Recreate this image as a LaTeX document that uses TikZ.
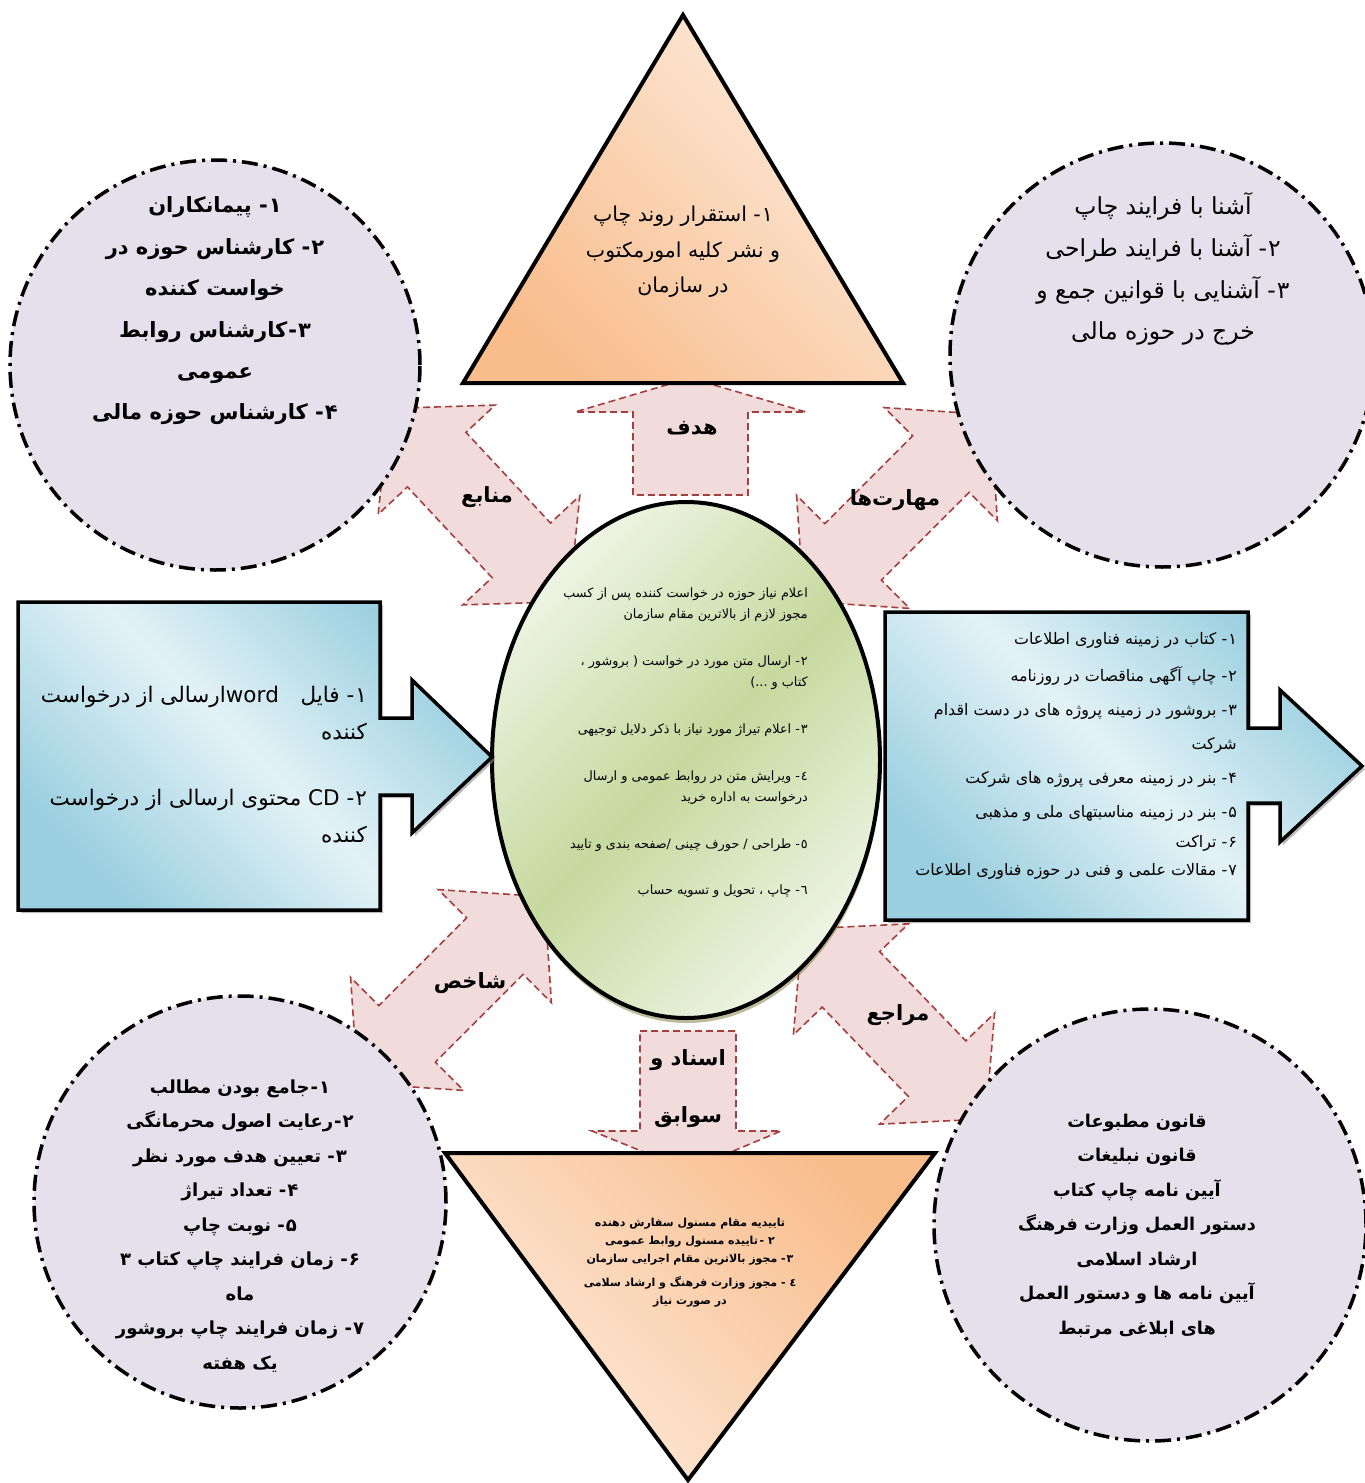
\documentclass[tikz,border=0pt]{standalone}
\usepackage{fontspec}
\setmainfont{DejaVu Sans}
\newfontfamily\arabicfont[Script=Arabic]{DejaVu Sans}
\TeXXeTstate=1
\usetikzlibrary{shadows}
\newcommand\fa[1]{\beginR #1\endR}
\newcommand\en[1]{\beginL #1\endL}
\newcommand\nm[1]{#1\kern1pt-}
\definecolor{lav}{HTML}{E5E0EC}
\definecolor{pinkf}{HTML}{F2DCDB}
\definecolor{pinkd}{HTML}{A33F3C}
\definecolor{peachL}{HTML}{FDEBDD}
\definecolor{peachD}{HTML}{F9BD8C}
\definecolor{greenL}{HTML}{EEF4E4}
\definecolor{greenD}{HTML}{C6D99E}
\definecolor{blueL}{HTML}{E3F2F7}
\definecolor{blueD}{HTML}{9ACFDF}
\newcommand\dblarrow[4]{%
  \draw[parrow,shift={(#1,#2)},rotate=#3] (-132,0) -- (-62,80) -- (-62,40) -- (62,40) -- (62,80) -- (132,0) -- (62,-80) -- (62,-40) -- (-62,-40) -- (-62,-80) -- cycle;
  \coordinate (#4) at (#1,#2);}
\begin{document}
\begin{tikzpicture}[x=1pt,y=-1pt,
  circ/.style={draw=black,line width=3.5pt,dash pattern=on 16pt off 6pt on 3pt off 6pt,fill=lav},
  parrow/.style={draw=pinkd,fill=pinkf,line width=1.6pt,dash pattern=on 7pt off 4pt,line join=miter},
  tri/.style={draw=black,line width=4pt,line join=miter},
  boxshape/.style={draw=black,line width=3.5pt,line join=miter,shade,top color=blueD,bottom color=blueD,middle color=blueL,shading angle=-45,
     drop shadow={shadow xshift=3pt,shadow yshift=-3pt,fill=black!45,opacity=.6}},
  lbl/.style={font=\arabicfont\bfseries\fontsize{21}{26}\selectfont,inner sep=0pt},
  txt/.style={inner sep=0pt,align=center}
]
\useasboundingbox (0,0) rectangle (1365,1483);
\clip (0,0) rectangle (1365,1483);

% pink connector arrows
\draw[parrow] (633,495) -- (633,412) -- (575,412) -- (690,378) -- (806,412) -- (748,412) -- (748,495) -- cycle;
\coordinate (aTop) at (690,450);
\draw[parrow] (640,1031) -- (736,1031) -- (736,1131) -- (781,1131) -- (688,1170) -- (592,1131) -- (640,1131) -- cycle;
\coordinate (aBot) at (688,1080);
\dblarrow{479}{505}{-47}{aRes}
\dblarrow{897}{508}{45}{aSkill}
\dblarrow{451}{990}{45}{aInd}
\dblarrow{894}{1024}{-46}{aRef}

% circles
\draw[circ] (215,365) circle[radius=205pt];
\draw[circ] (1162,355) circle[radius=212pt];
\draw[circ] (240,1202) circle[radius=206pt];
\draw[circ] (1150,1225) circle[radius=216pt];

% triangles
\draw[tri,shade,top color=peachL,bottom color=peachD,shading angle=-45] (683,15) -- (903,383) -- (463,383) -- cycle;
\draw[tri,shade,top color=peachD,bottom color=peachL,shading angle=-45] (445,1153) -- (935,1153) -- (688,1480) -- cycle;

% ellipse
\draw[line width=4pt,shade,top color=greenL,bottom color=greenL,middle color=greenD,shading angle=45,
  drop shadow={shadow xshift=1pt,shadow yshift=-5pt,fill=olive!70!black,opacity=.45}] (686,760) ellipse[x radius=194pt,y radius=258pt];

% boxes with arrows
\draw[boxshape] (18,602) -- (380,602) -- (380,718) -- (412,718) -- (412,680) -- (492,757) -- (412,833) -- (412,795) -- (380,795) -- (380,910) -- (18,910) -- cycle;
\draw[boxshape] (885,612) -- (1248,612) -- (1248,728) -- (1280,728) -- (1280,690) -- (1362,766) -- (1280,842) -- (1280,803) -- (1248,803) -- (1248,920) -- (885,920) -- cycle;

% arrow labels
\node[lbl] (lTop) at (692,428) {\fa{هدف}};
\node[lbl] (lRes) at (487,497) {\fa{منابع}};
\node[lbl] (lSkill) at (895,500) {\fa{مهارت‌ها}};
\node[lbl] (lInd) at (470,983) {\fa{شاخص}};
\node[lbl] (lRef) at (898,1015) {\fa{مراجع}};
\node[lbl] (lDoc1) at (688,1060) {\fa{اسناد و}};
\node[lbl] (lDoc2) at (688,1117) {\fa{سوابق}};

% top-left circle
\node[txt,font=\arabicfont\bfseries\fontsize{21}{41.4}\selectfont] (tTL) at (215,311) {%
\fa{\nm{۱} پیمانکاران}\\
\fa{\nm{۲} کارشناس حوزه در}\\
\fa{خواست کننده}\\
\fa{\nm{۳}\kern1pt کارشناس روابط}\\
\fa{عمومی}\\
\fa{\nm{۴} کارشناس حوزه مالی}};

% top triangle
\node[txt,font=\arabicfont\fontsize{20.5}{35.5}\selectfont] (tTop) at (683,252) {%
\fa{\nm{۱} استقرار روند چاپ}\\
\fa{و نشر کلیه امورمکتوب}\\
\fa{در سازمان}};

% top-right circle
\node[txt,font=\arabicfont\fontsize{23.5}{41.7}\selectfont] (tTR) at (1163,269) {%
\fa{آشنا با فرایند چاپ}\\
\fa{\nm{۲} آشنا با فرایند طراحی}\\
\fa{\nm{۳} آشنایی با قوانین جمع و}\\
\fa{خرج در حوزه مالی}};

% left box
\node[txt,align=right,anchor=east,font=\arabicfont\fontsize{21.5}{37}\selectfont] (tL1) at (367,713) {%
\fa{\nm{۱} فایل\quad\en{word}ارسالی از درخواست}\\
\fa{کننده}};
\node[txt,align=right,anchor=east,font=\arabicfont\fontsize{21.5}{37}\selectfont] (tL2) at (367,816) {%
\fa{\nm{۲} \en{CD} محتوی ارسالی از درخواست}\\
\fa{کننده}};

% center ellipse
\begin{scope}[every node/.style={txt,align=right,anchor=east,font=\arabicfont\fontsize{12.8}{21}\selectfont}]
\node (c1) at (808,605) {\fa{اعلام نیاز حوزه در خواست کننده پس از کسب}\\ \fa{مجوز لازم از بالاترین مقام سازمان}};
\node (c2) at (808,673) {\fa{\nm{٢} ارسال متن مورد در خواست ( بروشور ،}\\ \fa{کتاب و ...)}};
\node (c3) at (808,730) {\fa{\nm{٣} اعلام تیراژ مورد نیاز با ذکر دلایل توجیهی}};
\node (c4) at (808,788) {\fa{\nm{٤} ویرایش متن در روابط عمومی و ارسال}\\ \fa{درخواست به اداره خرید}};
\node (c5) at (808,845) {\fa{\nm{٥} طراحی / حورف چینی /صفحه بندی و تایید}};
\node (c6) at (808,891) {\fa{\nm{٦} چاپ ، تحویل و تسویه حساب}};
\end{scope}

% right box
\begin{scope}[every node/.style={inner sep=0pt,anchor=east,font=\arabicfont\fontsize{15.9}{20}\selectfont}]
\node (r1) at (1237,640) {\fa{\nm{۱} کتاب در زمینه فناوری اطلاعات}};
\node (r2) at (1237,676) {\fa{\nm{۲} چاپ آگهی مناقصات در روزنامه}};
\node (r3) at (1237,711) {\fa{\nm{۳} بروشور در زمینه پروژه های در دست اقدام}};
\node (r4) at (1237,745) {\fa{شرکت}};
\node (r5) at (1237,779) {\fa{\nm{۴} بنر در زمینه معرفی پروژه های شرکت}};
\node (r6) at (1237,813) {\fa{\nm{۵} بنر در زمینه مناسبتهای ملی و مذهبی}};
\node (r7) at (1237,843) {\fa{\nm{۶} تراکت}};
\node (r8) at (1237,871) {\fa{\nm{۷} مقالات علمی و فنی در حوزه فناوری اطلاعات}};
\end{scope}

% bottom-left circle
\node[txt,font=\arabicfont\bfseries\fontsize{18}{34.5}\selectfont] (tBL) at (240,1226) {%
\fa{\nm{۱}\kern1pt جامع بودن مطالب}\\
\fa{\nm{۲}\kern1pt رعایت اصول محرمانگی}\\
\fa{\nm{۳} تعیین هدف مورد نظر}\\
\fa{\nm{۴} تعداد تیراژ}\\
\fa{\nm{۵} نوبت چاپ}\\
\fa{\nm{۶} زمان فرایند چاپ کتاب ۳}\\
\fa{ماه}\\
\fa{\nm{۷} زمان فرایند چاپ بروشور}\\
\fa{یک هفته}};

% bottom-right circle
\node[txt,font=\arabicfont\bfseries\fontsize{17.6}{34.5}\selectfont] (tBR) at (1137,1226) {%
\fa{قانون مطبوعات}\\
\fa{قانون نبلیغات}\\
\fa{آیین نامه چاپ کتاب}\\
\fa{دستور العمل وزارت فرهنگ}\\
\fa{ارشاد اسلامی}\\
\fa{آیین نامه ها و دستور العمل}\\
\fa{های ابلاغی مرتبط}};

% bottom triangle
\node[txt,font=\arabicfont\bfseries\fontsize{11}{18}\selectfont] (tB1) at (690,1242) {%
\fa{تاییدیه مقام مسنول سفارش دهنده}\\
\fa{۲ -\,تاییده مسنول روابط عمومی}\\
\fa{\nm{۳} مجوز بالاترین مقام اجرایی سازمان}};
\node[txt,font=\arabicfont\bfseries\fontsize{11}{18}\selectfont] (tB2) at (690,1292) {%
\fa{٤ - مجوز وزارت فرهنگ و ارشاد سلامی}\\
\fa{در صورت نیاز}};
\end{tikzpicture}
\end{document}
